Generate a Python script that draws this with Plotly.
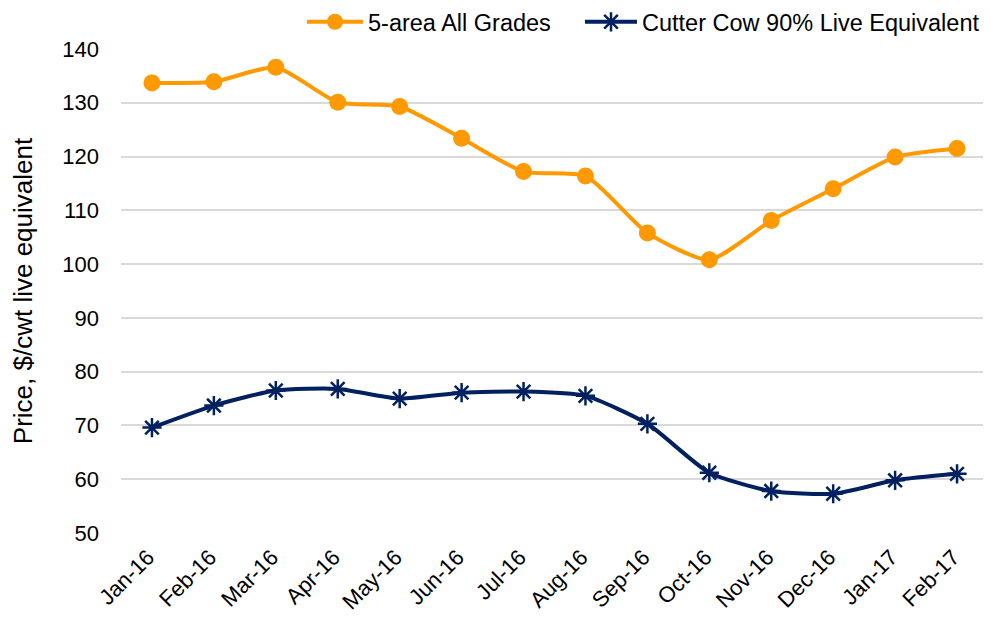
import plotly.graph_objects as go

months = ["Jan-16", "Feb-16", "Mar-16", "Apr-16", "May-16", "Jun-16", "Jul-16",
          "Aug-16", "Sep-16", "Oct-16", "Nov-16", "Dec-16", "Jan-17", "Feb-17"]
five_area = [133.7, 133.9, 136.6, 130.1, 129.3, 123.4, 117.2,
             116.4, 105.8, 100.8, 108.1, 114.0, 119.9, 121.5]
cutter_cow = [69.6, 73.7, 76.5, 76.8, 75.0, 76.1, 76.3,
              75.5, 70.3, 61.2, 57.8, 57.3, 59.8, 61.0]

orange = "#FF9900"
navy = "#002060"
font_family = "Liberation Sans, Arial, sans-serif"

W, H = 983, 612

fig = go.Figure()
fig.add_trace(go.Scatter(
    x=months, y=five_area, name="5-area All Grades",
    mode="lines+markers", legend="legend",
    line=dict(color=orange, width=4, shape="spline", smoothing=0.6),
    marker=dict(symbol="circle", size=17, color=orange),
))
fig.add_trace(go.Scatter(
    x=months, y=cutter_cow, name="Cutter Cow 90% Live Equivalent",
    mode="lines+markers", legend="legend2", legendgroup="cc",
    line=dict(color=navy, width=4, shape="spline", smoothing=0.6),
    marker=dict(symbol="asterisk-open", size=16, color=navy, line=dict(color=navy, width=2.5)),
))

legend_common = dict(orientation="h", yref="container", y=1 - 14 / H, yanchor="middle",
                     xref="container", xanchor="left", font=dict(size=23.5),
                     bgcolor="rgba(0,0,0,0)")

fig.update_layout(
    width=W, height=H,
    margin=dict(l=113, r=3, t=41, b=87, autoexpand=False),
    paper_bgcolor="white", plot_bgcolor="white",
    font=dict(family=font_family, size=22, color="#000000"),
    showlegend=True,
    legend=dict(x=294 / W, itemwidth=56, **legend_common),
    legend2=dict(x=572 / W, itemwidth=52, **legend_common),
    xaxis=dict(
        type="category", tickangle=-45, showgrid=False, showline=False,
        ticks="", tickfont=dict(size=22), range=[-0.5, 13.5],
        ticklabelstandoff=6, ticklabelshift=-4,
    ),
    yaxis=dict(
        range=[50, 140], dtick=10, showgrid=True, gridcolor="#D9D9D9", gridwidth=1.5,
        zeroline=False, showline=False, ticks="", tickfont=dict(size=22),
        ticklabelstandoff=21,
        title=dict(text="Price, $/cwt live equivalent", font=dict(size=26), standoff=24),
    ),
)
fig.write_html("out.html")
